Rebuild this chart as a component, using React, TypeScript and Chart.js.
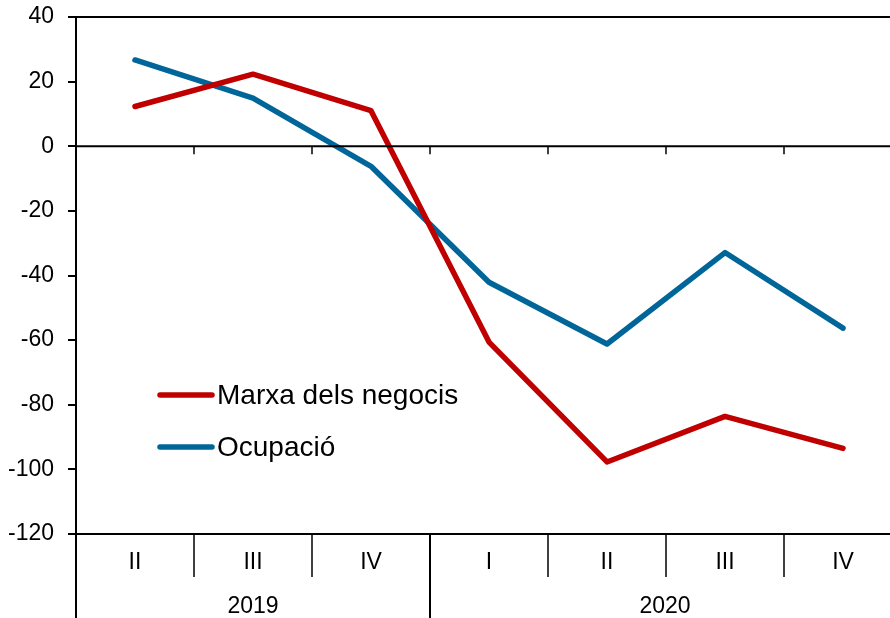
import React, { useEffect, useRef } from "react";
import { Chart, registerables } from "chart.js";

Chart.register(...registerables);

const categories = ["II", "III", "IV", "I", "II", "III", "IV"];
const years = ["2019", "2020"];
const yearSpans = [3, 4];
const marxa = [12.3, 22.3, 11.0, -60.6, -97.7, -83.6, -93.5];
const ocupacio = [26.7, 14.9, -6.2, -42.1, -61.2, -32.9, -56.3];
const seriesLabels = ["Marxa dels negocis", "Ocupació"];
const seriesColors = ["#C00000", "#006699"];

const FONT = "'Liberation Sans', Arial, sans-serif";

const decorPlugin = {
  id: "decor",
  afterDatasetsDraw(chart: any) {
    const ctx = chart.ctx;
    const { left, right, top, bottom } = chart.chartArea;
    const x = chart.scales.x;
    const y = chart.scales.y;
    const n = categories.length;
    const catW = (right - left) / n;
    const y0 = y.getPixelForValue(0);
    ctx.save();
    ctx.strokeStyle = "#000";
    ctx.lineWidth = 2;
    ctx.beginPath();
    ctx.moveTo(left, top);
    ctx.lineTo(right, top);
    ctx.stroke();
    ctx.beginPath();
    ctx.moveTo(left, y0);
    ctx.lineTo(right, y0);
    ctx.stroke();
    ctx.lineWidth = 1.5;
    for (let i = 1; i < n; i++) {
      const bx = left + i * catW;
      ctx.beginPath();
      ctx.moveTo(bx, y0);
      ctx.lineTo(bx, y0 + 8);
      ctx.stroke();
    }
    ctx.lineWidth = 2;
    ctx.beginPath();
    ctx.moveTo(left, bottom);
    ctx.lineTo(right, bottom);
    ctx.stroke();
    ctx.lineWidth = 1.5;
    for (let i = 1; i < n; i++) {
      const bx = left + i * catW;
      ctx.beginPath();
      ctx.moveTo(bx, bottom);
      ctx.lineTo(bx, bottom + 43);
      ctx.stroke();
    }
    ctx.lineWidth = 2;
    let acc = 0;
    const bounds = [0];
    yearSpans.forEach((s) => {
      acc += s;
      bounds.push(acc);
    });
    bounds.forEach((b) => {
      const bx = left + b * catW;
      ctx.beginPath();
      ctx.moveTo(bx, bottom);
      ctx.lineTo(bx, chart.height);
      ctx.stroke();
    });
    ctx.fillStyle = "#000";
    ctx.font = `23px ${FONT}`;
    ctx.textAlign = "center";
    ctx.textBaseline = "middle";
    categories.forEach((c, i) => {
      ctx.fillText(c, x.getPixelForValue(i), bottom + 29);
    });
    years.forEach((yr, i) => {
      const cx = left + ((bounds[i] + bounds[i + 1]) / 2) * catW;
      ctx.fillText(yr, i === 1 ? 665 : cx, bottom + 73);
    });
    ctx.font = `28px ${FONT}`;
    ctx.textAlign = "left";
    const legY = [395, 447];
    chart.data.datasets.forEach((ds: any, i: number) => {
      ctx.strokeStyle = ds.borderColor;
      ctx.lineWidth = 5.5;
      ctx.lineCap = "round";
      ctx.beginPath();
      ctx.moveTo(160, legY[i]);
      ctx.lineTo(212, legY[i]);
      ctx.stroke();
      ctx.fillStyle = "#000";
      ctx.fillText(ds.label, 217, legY[i] + 1);
    });
    ctx.restore();
  },
};

export default function App() {
  const ref = useRef<HTMLCanvasElement | null>(null);
  useEffect(() => {
    document.body.style.margin = "0";
    const chart = new Chart(ref.current as HTMLCanvasElement, {
      type: "line",
      data: {
        labels: categories,
        datasets: [
          {
            label: seriesLabels[0],
            data: marxa,
            borderColor: seriesColors[0],
            borderWidth: 5.5,
            pointRadius: 0,
            borderCapStyle: "round",
            borderJoinStyle: "round",
            tension: 0,
          },
          {
            label: seriesLabels[1],
            data: ocupacio,
            borderColor: seriesColors[1],
            borderWidth: 5.5,
            pointRadius: 0,
            borderCapStyle: "round",
            borderJoinStyle: "round",
            tension: 0,
          },
        ],
      },
      options: {
        responsive: false,
        animation: false,
        layout: { padding: { top: 17, bottom: 84, right: 2, left: 0 } },
        plugins: { legend: { display: false }, tooltip: { enabled: false } },
        scales: {
          x: { type: "category", display: false, offset: true },
          y: {
            min: -120,
            max: 40,
            afterFit: (s: any) => {
              s.width = 76;
              s.paddingTop = 0;
              s.paddingBottom = 0;
            },
            ticks: {
              stepSize: 20,
              color: "#000",
              font: { family: FONT, size: 23 },
              padding: 14,
            },
            grid: {
              drawOnChartArea: false,
              drawTicks: true,
              tickLength: 8,
              color: "#000",
              lineWidth: 2,
            },
            border: { display: true, color: "#000", width: 2 },
          },
        },
      },
      plugins: [decorPlugin],
    } as any);
    return () => chart.destroy();
  }, []);
  return (
    <div style={{ width: 890, height: 618, overflow: "hidden", position: "relative" }}>
      <canvas ref={ref} width={904} height={618} style={{ display: "block" }} />
    </div>
  );
}
